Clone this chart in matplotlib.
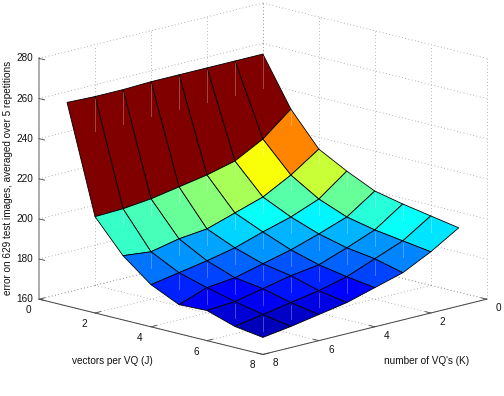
"""VQ test error surface, redrawn in the old MATLAB surf style."""
import matplotlib
matplotlib.use("Agg")
import matplotlib.pyplot as plt
from matplotlib.colors import LinearSegmentedColormap, Normalize
from mpl_toolkits.mplot3d import proj3d
import numpy as np

plt.rcParams["font.family"] = ["Liberation Sans", "DejaVu Sans"]

vectors_j = [1, 2, 3, 4, 5, 6, 7, 8]
vqs_k = [1, 2, 3, 4, 5, 6, 7, 8]
# rows are J = 1..8, columns are K = 1..8
error = [
    [261.5, 261.5, 261.5, 261.5, 261.5, 261.0, 261.0, 261.5],
    [237.5, 226.0, 218.5, 215.0, 212.5, 210.0, 208.5, 208.0],
    [221.0, 211.5, 204.0, 199.5, 195.0, 193.5, 190.5, 192.0],
    [213.5, 203.0, 197.5, 193.5, 189.0, 186.0, 183.5, 181.0],
    [207.0, 197.5, 192.5, 188.0, 184.5, 181.0, 179.5, 174.5],
    [204.0, 194.5, 189.0, 184.0, 182.0, 179.0, 176.0, 175.0],
    [201.5, 192.5, 187.0, 181.5, 178.0, 175.5, 173.0, 170.5],
    [199.0, 190.5, 183.5, 179.5, 175.5, 173.0, 170.5, 168.5],
]
xy_ticks = [0, 2, 4, 6, 8]
z_ticks = [160, 180, 200, 220, 240, 260, 280]

GRID = "#9a9a9a"
AXIS = "#444444"
TXT = "#111111"
FS = 7.2

# MATLAB's jet is not quite matplotlib's
matlab_jet = LinearSegmentedColormap.from_list("matlab_jet", [
    (0.0, (0, 0, 0.5625)), (0.125, (0, 0, 1)), (0.375, (0, 1, 1)),
    (0.625, (1, 1, 0)), (0.875, (1, 0, 0)), (1.0, (0.5, 0, 0))], N=64)

fig = plt.figure(figsize=(5.04, 3.96), dpi=100)
ax = fig.add_axes([0.011, 0.035, 1.0, 1.0], projection="3d", computed_zorder=False)
ax.set_proj_type("ortho")
ax.view_init(elev=14.3, azim=45)
ax.set_box_aspect((1, 1, 0.785), zoom=1.255)
ax.set_xticks([]); ax.set_yticks([]); ax.set_zticks([])
ax.set_xlim(0, 8); ax.set_ylim(0, 8); ax.set_zlim(160, 280)
ax.set_axis_off()

zlo, zhi = z_ticks[0], z_ticks[-1]
grid_kw = dict(color=GRID, lw=0.6, ls=(0, (1, 3)), zorder=1, clip_on=False)
line_kw = dict(color=AXIS, zorder=3, clip_on=False)

# dotted grid on the two back walls and the floor
for t in xy_ticks:
    ax.plot([t, t], [0, 0], [zlo, zhi], **grid_kw)
    ax.plot([0, 0], [t, t], [zlo, zhi], **grid_kw)
    ax.plot([t, t], [0, 8], [zlo, zlo], **grid_kw)
    ax.plot([0, 8], [t, t], [zlo, zlo], **grid_kw)
for z in z_ticks:
    ax.plot([0, 8], [0, 0], [z, z], **grid_kw)
    ax.plot([0, 0], [0, 8], [z, z], **grid_kw)

# x is K and y is J, so K runs off to the lower left and J to the lower right
K, J = np.meshgrid(vqs_k, vectors_j)
Z = np.array(error)
colors = matlab_jet(Normalize(Z.min(), Z.max())(Z))
surf = ax.plot_surface(K, J, Z, rstride=1, cstride=1, facecolors=colors, shade=False,
                       edgecolor="black", linewidth=0.6, antialiased=True, zorder=2)
surf.set_clip_on(False)

# the faint light streaks the old renderer left under each vertex
for i in range(7):
    for j in range(7):
        drop = 17 if i == 0 else 8
        ax.plot([K[i, j], K[i, j]], [J[i, j], J[i, j]], [Z[i, j] - 1, Z[i, j] - drop],
                color="white", alpha=0.28, lw=0.7, zorder=2.5, clip_on=False)

# solid axes on the front edges
ax.plot([8, 8], [0, 8], [zlo, zlo], lw=0.7, **line_kw)
ax.plot([0, 8], [8, 8], [zlo, zlo], lw=0.7, **line_kw)
ax.plot([8, 8], [0, 0], [zlo, zhi], color="#a8a8a8", lw=1.3, zorder=3, clip_on=False)

fig.canvas.draw()  # settles the axes box, so projected positions below are final


def label3d(x, y, z, s, dx, dy, ha="center"):
    # tick label placed in figure pixels, dx/dy away from its 3D point
    px, py, _ = proj3d.proj_transform(x, y, z, ax.get_proj())
    px, py = ax.transData.transform((px, py))
    fig.text((px + dx) / 504, (py + dy) / 396, s, fontsize=FS, color=TXT, ha=ha, va="center")


for t in xy_ticks:
    ax.plot([8, 7.8], [t, t], [zlo, zlo], lw=0.6, **line_kw)
    ax.plot([t, t], [8, 7.8], [zlo, zlo], lw=0.6, **line_kw)
    label3d(8, t, zlo, str(t), -11, -11)
    label3d(t, 8, zlo, str(t), 12, -9)
for z in z_ticks:
    ax.plot([8, 8], [0, 0.2], [z, z], lw=0.6, **line_kw)
    label3d(8, 0, z, str(z), -6, 0, ha="right")

fig.text(112 / 504, 1 - 361 / 396, "vectors per VQ (J)", fontsize=FS, color=TXT,
         ha="center", va="center")
fig.text(427 / 504, 1 - 361 / 396, "number of VQ's (K)", fontsize=FS, color=TXT,
         ha="center", va="center")
fig.text(8 / 504, 1 - 178 / 396, "error on 629 test images, averaged over 5 repetitions",
         fontsize=FS, color=TXT, rotation=90, ha="center", va="center")

fig.savefig("out.png", dpi=100, facecolor="white")
